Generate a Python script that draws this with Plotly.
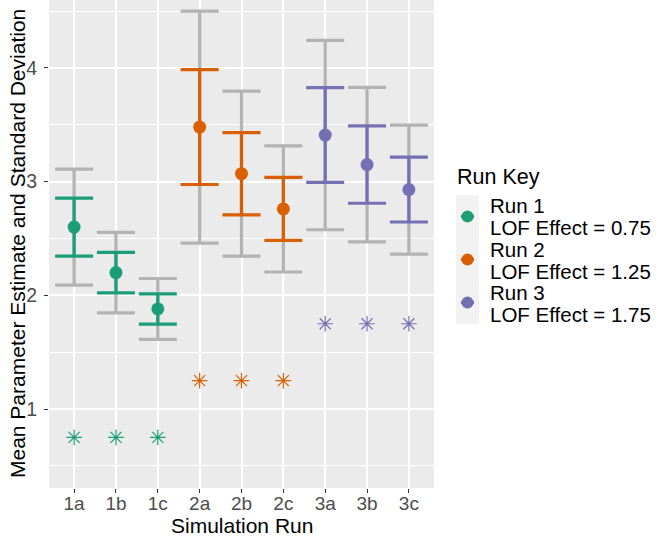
import plotly.graph_objects as go

# ---------------- data ----------------
categories = ["1a", "1b", "1c", "2a", "2b", "2c", "3a", "3b", "3c"]
run_of_category = [0, 0, 0, 1, 1, 1, 2, 2, 2]
mean_estimate = [2.60, 2.20, 1.88, 3.48, 3.07, 2.76, 3.41, 3.15, 2.93]
sd_estimate = [0.255, 0.178, 0.133, 0.505, 0.362, 0.277, 0.417, 0.340, 0.285]
two_sd_estimate = [0.510, 0.354, 0.268, 1.020, 0.726, 0.555, 0.833, 0.680, 0.567]
run_names = ["Run 1", "Run 2", "Run 3"]
lof_effect = [0.75, 1.25, 1.75]
run_colors = ["#1B9E77", "#D95F02", "#7570B3"]
y_ticks = [1, 2, 3, 4]

FONT = "Liberation Sans, Arial, sans-serif"
GREY_BAR = "#B3B3B3"

fig = go.Figure()

# outer (2 SD) grey error bars
fig.add_trace(go.Scatter(
    x=categories, y=mean_estimate, mode="markers",
    marker=dict(size=1, color="rgba(0,0,0,0)"),
    error_y=dict(type="data", array=two_sd_estimate, visible=True,
                 color=GREY_BAR, thickness=3.2, width=19),
    showlegend=False, hoverinfo="skip"))

# coloured SD bars + mean points, LOF asterisks
for r, name in enumerate(run_names):
    xs = [c for c, g in zip(categories, run_of_category) if g == r]
    ms = [m for m, g in zip(mean_estimate, run_of_category) if g == r]
    sds = [s for s, g in zip(sd_estimate, run_of_category) if g == r]
    fig.add_trace(go.Scatter(
        x=xs, y=ms, mode="markers", name=name,
        marker=dict(size=13, color=run_colors[r]),
        error_y=dict(type="data", array=sds, visible=True,
                     color=run_colors[r], thickness=3.2, width=19),
        showlegend=False))
    fig.add_trace(go.Scatter(
        x=xs, y=[lof_effect[r]] * len(xs), mode="markers",
        marker=dict(symbol="asterisk-open", size=13, color=run_colors[r],
                    line=dict(width=1.2, color=run_colors[r])),
        showlegend=False))

# ---------------- layout ----------------
PL, PR, PT, PB = 49, 434, 0, 488


def px(x):
    return (x - PL) / (PR - PL)


def py(y):
    return (PB - y) / (PB - PT)


shapes = [dict(type="rect", xref="paper", yref="paper",
               x0=px(456), x1=px(479), y0=py(195), y1=py(324),
               fillcolor="#F2F2F2", line=dict(width=0))]
annotations = [
    dict(text="Run Key", x=px(455), y=py(176.5), xref="paper", yref="paper",
         xanchor="left", yanchor="middle", showarrow=False,
         font=dict(family=FONT, size=21.5, color="black")),
    dict(text="Mean Parameter Estimate and Standard Deviation",
         x=px(17), y=0.5, xref="paper", yref="paper", textangle=-90,
         xanchor="center", yanchor="middle", showarrow=False,
         font=dict(family=FONT, size=21, color="black")),
    dict(text="Simulation Run", x=0.5, y=py(525.5), xref="paper", yref="paper",
         xanchor="center", yanchor="middle", showarrow=False,
         font=dict(family=FONT, size=21, color="black")),
]
for r, name in enumerate(run_names):
    cy = 216.5 + 43 * r
    shapes.append(dict(type="line", xref="paper", yref="paper",
                       x0=px(461), x1=px(474), y0=py(cy), y1=py(cy),
                       line=dict(color=run_colors[r], width=3)))
    shapes.append(dict(type="circle", xref="paper", yref="paper",
                       xsizemode="pixel", ysizemode="pixel",
                       xanchor=px(467.5), yanchor=py(cy),
                       x0=-6, x1=6, y0=-6, y1=6,
                       fillcolor=run_colors[r], line=dict(width=0)))
    annotations.append(dict(text=name, x=px(488), y=py(cy - 10.5),
                            xref="paper", yref="paper", xanchor="left",
                            yanchor="middle", showarrow=False,
                            font=dict(family=FONT, size=20.5, color="black")))
    annotations.append(dict(text=f"LOF Effect = {lof_effect[r]:.2f}",
                            x=px(488), y=py(cy + 11.5),
                            xref="paper", yref="paper", xanchor="left",
                            yanchor="middle", showarrow=False,
                            font=dict(family=FONT, size=20.5, color="black")))

fig.update_layout(
    width=660, height=537,
    margin=dict(l=PL, r=660 - PR, t=PT, b=537 - PB),
    paper_bgcolor="white", plot_bgcolor="#EBEBEB",
    font=dict(family=FONT, color="#4D4D4D"),
    showlegend=False,
    shapes=shapes, annotations=annotations,
    xaxis=dict(type="category", categoryorder="array", categoryarray=categories,
               range=[-0.6, 8.6], showgrid=True, gridcolor="white", gridwidth=1.6,
               zeroline=False, showline=False, automargin=False,
               ticks="outside", ticklen=4, tickwidth=1, tickcolor="#333333",
               ticklabelstandoff=-6,
               tickfont=dict(family=FONT, size=19, color="#4D4D4D")),
    yaxis=dict(range=[0.305, 4.598], tickvals=y_ticks,
               ticktext=[str(v) for v in y_ticks],
               showgrid=True, gridcolor="white", gridwidth=1.6,
               minor=dict(tickvals=[0.5, 1.5, 2.5, 3.5, 4.5], showgrid=True,
                          gridcolor="white", gridwidth=0.8, ticks=""),
               zeroline=False, showline=False, automargin=False,
               ticks="outside", ticklen=4, tickwidth=1, tickcolor="#333333",
               ticklabelstandoff=3,
               tickfont=dict(family=FONT, size=19.5, color="#4D4D4D")),
)

fig.write_html(
    "out.html",
    config={"displayModeBar": False},
    post_script="document.body.style.margin='0';document.body.style.overflow='hidden';",
)
